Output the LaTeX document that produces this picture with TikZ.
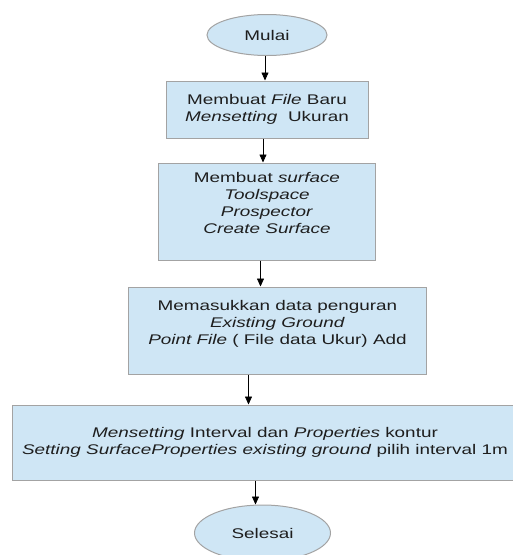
\documentclass[tikz,border=0pt]{standalone}
\usepackage{fontspec}
\setmainfont[FakeStretch=1.35]{Liberation Sans}
\usepackage{tikz}
\usetikzlibrary{arrows.meta}
\usetikzlibrary{shapes.geometric}
\definecolor{boxblue}{HTML}{CFE6F5}
\definecolor{boxline}{HTML}{A3A3A3}
\definecolor{textgray}{HTML}{1E1E1E}

\begin{document}
\begin{tikzpicture}[x=1pt,y=1pt]
            \useasboundingbox (0,0) rectangle (513,-555);
            \begin{scope}[->,>={Triangle[length=8pt,width=7pt]},line width=0.7pt,node distance=75pt,
              main node/.style={rectangle,draw=boxline,line width=1pt,fill=boxblue,inner sep=0pt,align=center,text=textgray,font=\fontsize{14}{17}\selectfont},
              end node/.style={ellipse,draw=boxline,line width=1pt,fill=boxblue,inner sep=0pt,text=textgray,font=\fontsize{14}{17}\selectfont}]
            \node[end node,minimum width=120pt,minimum height=41pt] (mulai) at (267,-35) {Mulai};
            \node[main node,minimum width=202pt,minimum height=57pt] (1) [below of=mulai,node distance=74.5pt] {Membuat \textit{File} Baru\\ \textit{Mensetting}\ \ Ukuran};
            \node[main node,minimum width=217pt,minimum height=97pt] (2) [below of=1,node distance=102pt] {Membuat \textit{surface}\\ \textit{Toolspace}\\ \textit{Prospector}\\ \textit{Create Surface}\\ \mbox{}};
            \node[main node,minimum width=298pt,minimum height=87pt] (3) [below of=2,node distance=119pt,xshift=10.5pt] {Memasukkan data penguran\\ \textit{Existing Ground}\\ \textit{Point File} ( File data Ukur) Add\\ \mbox{}};
            \node[main node,minimum width=505pt,minimum height=75pt] (4) [below of=3,node distance=112pt,xshift=-12.5pt] {\textit{Mensetting} Interval dan \textit{Properties} kontur\\ \textit{Setting SurfaceProperties existing ground} pilih interval 1m};
            \node[end node,minimum width=136pt,minimum height=56pt] (selesai) [below of=4,node distance=90.5pt,xshift=-2.5pt] {Selesai};
            \draw ([xshift=-2pt]mulai.south) -- ([xshift=-2pt]mulai.south |- 1.north);
            \draw ([xshift=-4pt]1.south) -- ([xshift=-4pt]1.south |- 2.north);
            \draw ([xshift=-6.5pt]2.south) -- ([xshift=-6.5pt]2.south |- 3.north);
            \draw ([xshift=-29pt]3.south) -- ([xshift=-29pt]3.south |- 4.north);
            %\draw (3) -- (4);
            \draw ([xshift=-9.5pt]4.south) -- ([xshift=-9.5pt]4.south |- selesai.north);
            \end{scope}
        \end{tikzpicture}
\end{document}
